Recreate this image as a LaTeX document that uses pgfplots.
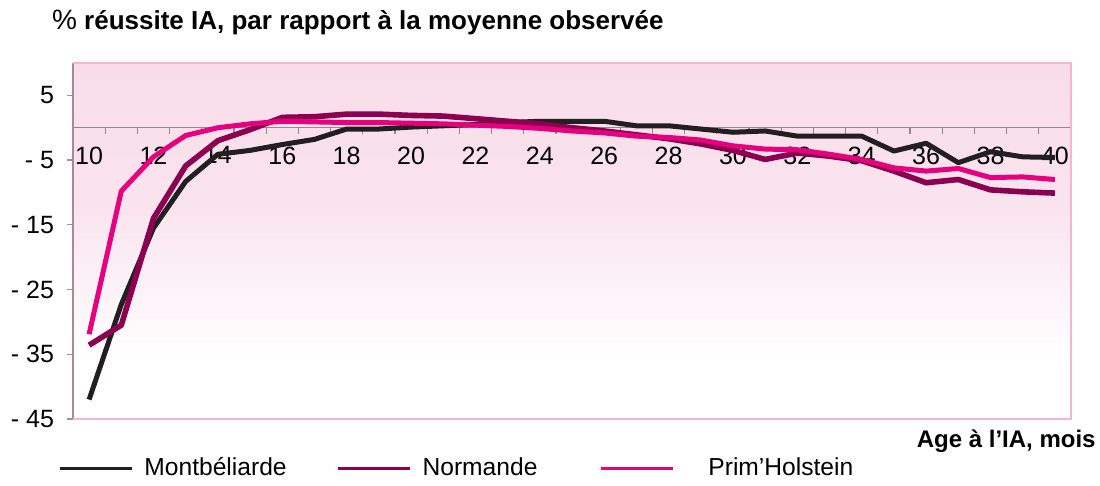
\documentclass[border=0pt]{standalone}
\usepackage{fontspec}
\setmainfont{Liberation Sans}
\usepackage{pgfplots}
\pgfplotsset{compat=1.18}

\definecolor{montb}{HTML}{231F20}
\definecolor{norm}{HTML}{8C0052}
\definecolor{prim}{HTML}{E6007E}
\definecolor{pinktop}{RGB}{248,221,233}
\colorlet{pinkmid}{pinktop!80!white}
\definecolor{pinkline}{RGB}{244,182,207}
\definecolor{spine}{RGB}{170,135,155}
\pgfdeclareverticalshading{bgshade}{100bp}{color(0bp)=(white); color(33bp)=(white); color(55bp)=(pinkmid); color(75bp)=(pinktop); color(100bp)=(pinktop)}

\begin{document}
\begin{tikzpicture}
\begin{axis}[
  scale only axis, width=499bp, height=178bp,
  xmin=9.5, xmax=40.5, ymin=-45, ymax=10,
  axis x line*=middle, axis y line*=left,
  axis background/.style={shade, shading=bgshade},
  x axis line style={black!45, line width=0.6bp},
  y axis line style={spine, line width=0.6bp},
  xtick={10,12,...,40},
  xticklabels={10,12,14,16,18,20,22,24,26,28,30,32,34,36,38,40},
  minor xtick={9.5,10.5,...,40.5},
  major x tick style={draw=none},
  minor x tick style={black!45, line width=0.6bp},
  minor tick length=3bp,
  ytick={-45,-35,...,5},
  yticklabels={- 45,- 35,- 25,- 15,- 5,5},
  y tick style={spine, line width=0.6bp},
  major tick length=3bp,
  tick align=outside,
  xticklabel style={font=\fontsize{12.5bp}{14bp}\selectfont, yshift=-3bp},
  yticklabel style={font=\fontsize{12.5bp}{14bp}\selectfont, xshift=-3bp},
  clip=false,
  legend columns=3,
  legend style={at={(-0.015,-0.138)}, anchor=west, draw=none, fill=none,
    inner sep=0pt, font=\fontsize{12.3bp}{14bp}\selectfont, cells={anchor=west},
    /tikz/column 1/.append style={column sep=3.5bp},
    /tikz/column 2/.append style={column sep=23bp},
    /tikz/column 3/.append style={column sep=3.5bp},
    /tikz/column 4/.append style={column sep=29bp},
    /tikz/column 5/.append style={column sep=15bp}},
  legend image code/.code={\draw[#1, line width=1.5bp] (0bp,0bp) -- (36bp,0bp);},
]
\addplot[montb, line width=2.5bp, line join=round] coordinates {
(10,-42.0) (11,-27.3) (12,-15.5) (13,-8.3) (14,-4.1) (15,-3.5) (16,-2.6) (17,-1.8)
(18,-0.2) (19,-0.2) (20,0.1) (21,0.3) (22,0.5) (23,0.8) (24,1.0) (25,1.0) (26,1.0)
(27,0.3) (28,0.3) (29,-0.2) (30,-0.7) (31,-0.5) (32,-1.3) (33,-1.3) (34,-1.3)
(35,-3.6) (36,-2.4) (37,-5.4) (38,-3.7) (39,-4.5) (40,-4.6)};
\addplot[norm, line width=2.8bp, line join=round] coordinates {
(10,-33.6) (11,-30.5) (12,-14.0) (13,-5.9) (14,-2.0) (15,-0.3) (16,1.6) (17,1.7)
(18,2.1) (19,2.1) (20,1.9) (21,1.8) (22,1.4) (23,1.0) (24,0.6) (25,0.0) (26,-0.5)
(27,-1.1) (28,-1.7) (29,-2.5) (30,-3.5) (31,-4.9) (32,-3.9) (33,-4.4) (34,-5.1)
(35,-6.7) (36,-8.5) (37,-8.0) (38,-9.6) (39,-9.9) (40,-10.1)};
\addplot[prim, line width=2.5bp, line join=round] coordinates {
(10,-31.9) (11,-9.8) (12,-4.5) (13,-1.2) (14,0.0) (15,0.6) (16,1.0) (17,0.9)
(18,0.8) (19,0.8) (20,0.7) (21,0.6) (22,0.4) (23,0.2) (24,-0.1) (25,-0.5) (26,-0.8)
(27,-1.3) (28,-1.5) (29,-1.9) (30,-2.8) (31,-3.3) (32,-3.4) (33,-4.1) (34,-4.9)
(35,-6.2) (36,-6.7) (37,-6.3) (38,-7.7) (39,-7.6) (40,-8.0)};
\legend{Montbéliarde,Normande,Prim’Holstein}
\draw[pinkline, line width=0.6bp] (rel axis cs:0,0) -- (rel axis cs:1,0) -- (rel axis cs:1,1) -- (rel axis cs:0,1);
\node[anchor=west, font=\fontsize{13bp}{15bp}\selectfont\bfseries] at (rel axis cs:-0.028,1.115) {{\fontsize{14bp}{15bp}\selectfont$\%$} réussite IA, par rapport à la moyenne observée};
\node[anchor=east, inner sep=0pt, font=\fontsize{12bp}{14bp}\selectfont\bfseries] at (rel axis cs:1.025,-0.062) {Age à l’IA, mois};
\path (rel axis cs:-0.07315,-0.1882) rectangle (rel axis cs:1.02906,1.17697);
\end{axis}
\end{tikzpicture}
\end{document}
